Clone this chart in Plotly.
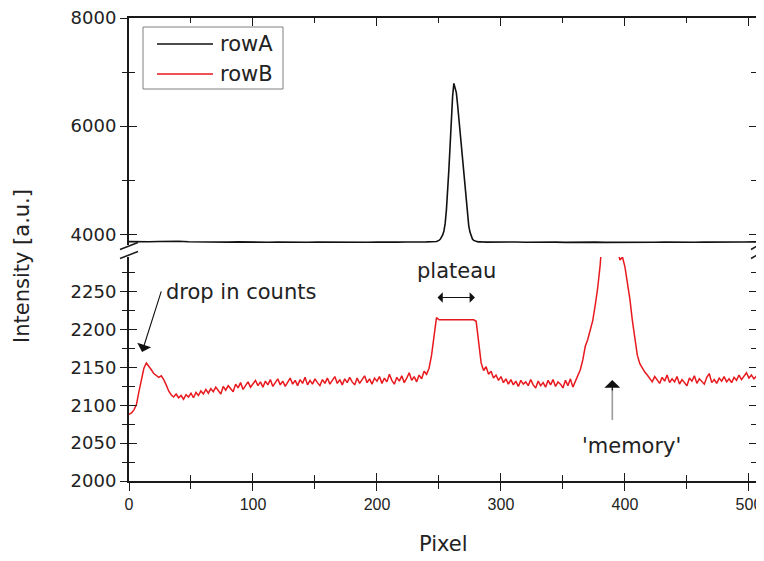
import plotly.graph_objects as go

# ---------------- data ----------------
rowA_x = [0, 8, 16, 24, 32, 40, 48, 56, 64, 72, 80, 88, 96, 104, 112, 120, 128, 136, 144, 152,
          160, 168, 176, 184, 192, 200, 208, 216, 224, 232, 240,
          248, 249, 250, 251, 252, 253, 254, 255, 256, 257, 258, 259, 260, 261, 262, 263, 264, 265,
          266, 267, 268, 269, 270, 271, 272, 273, 274, 275, 276, 277, 278, 279, 280, 281, 282, 283,
          288, 296, 304, 312, 320, 328, 336, 344, 352, 360, 368, 376, 384, 392, 400, 408, 416, 424,
          432, 440, 448, 456, 464, 472, 480, 488, 496, 504, 510]
rowA_y = [3862, 3858, 3860, 3866, 3872, 3868, 3860, 3855, 3852, 3856, 3853, 3857, 3852, 3855, 3850,
          3854, 3851, 3855, 3852, 3856, 3853, 3857, 3852, 3855, 3851, 3854, 3850, 3853, 3856, 3852, 3858,
          3866, 3872, 3885, 3905, 3935, 3985, 4060, 4200, 4450, 4780, 5200, 5650, 6150, 6550, 6790, 6700,
          6620, 6400, 6150, 5900, 5620, 5330, 5060, 4800, 4560, 4340, 4160, 4040, 3960, 3910, 3885, 3872,
          3866, 3862, 3858, 3860,
          3854, 3857, 3852, 3856, 3851, 3854, 3850, 3853, 3848, 3852, 3849, 3853, 3848, 3846, 3850, 3853,
          3849, 3852, 3856, 3851, 3855, 3850, 3854, 3851, 3856, 3852, 3855, 3858, 3856]

rowB_x = list(range(0, 512, 2))
rowB_y = [2088, 2090, 2094, 2101, 2118, 2136, 2149, 2156, 2152, 2147,
          2142, 2140, 2137, 2139, 2134, 2127, 2119, 2114, 2111, 2115,
          2110, 2113, 2108, 2114, 2111, 2116, 2110, 2117, 2113, 2119,
          2115, 2121, 2116, 2122, 2118, 2124, 2119, 2115, 2125, 2120,
          2126, 2122, 2118, 2128, 2123, 2130, 2121, 2126, 2131, 2124,
          2129, 2133, 2126, 2131, 2124, 2132, 2127, 2134, 2125, 2130,
          2135, 2127, 2132, 2125, 2131, 2136, 2128, 2133, 2126, 2134,
          2129, 2137, 2127, 2133, 2128, 2135, 2130, 2126, 2134, 2129,
          2136, 2128, 2133, 2138, 2129, 2134, 2127, 2135, 2130, 2137,
          2131, 2127, 2136, 2129, 2134, 2139, 2130, 2135, 2128, 2136,
          2132, 2138, 2129, 2136, 2131, 2141, 2133, 2128, 2137, 2132,
          2139, 2130, 2136, 2143, 2133, 2138, 2131, 2140, 2135, 2145,
          2141, 2149, 2166, 2192, 2216, 2213, 2213, 2213, 2213, 2213,
          2213, 2213, 2213, 2213, 2213, 2213, 2213, 2213, 2213, 2213,
          2211, 2186, 2156, 2146, 2151, 2141, 2145, 2136, 2140, 2133,
          2138, 2130, 2135, 2128, 2134, 2127, 2132, 2125, 2133, 2128,
          2131, 2126, 2134, 2127, 2123, 2132, 2126, 2130, 2124, 2133,
          2127, 2134, 2125, 2131, 2128, 2123, 2133, 2126, 2135, 2124,
          2132, 2138, 2147, 2160, 2178, 2187, 2198, 2212, 2232, 2255,
          2285, 2320, 2365, 2420, 2460, 2440, 2390, 2305, 2292, 2296,
          2283, 2264, 2240, 2212, 2190, 2166, 2155, 2149, 2144, 2140,
          2136, 2131, 2138, 2133, 2129, 2137, 2132, 2140, 2130, 2135,
          2131, 2138, 2128, 2134, 2130, 2126, 2136, 2132, 2139, 2129,
          2135, 2131, 2128, 2137, 2142, 2130, 2134, 2129, 2136, 2132,
          2138, 2131, 2135, 2130, 2137, 2133, 2140, 2134, 2138, 2143,
          2136, 2140, 2135, 2139, 2142, 2137]

x_range = [0, 506.5]
top_range = [3800, 8000]
bottom_range = [2000, 2296]

# ---------------- layout geometry (window pixels) ----------------
WIN_W, WIN_H = 764, 561
OFF = 8                      # page body margin
W, H = WIN_W - OFF, WIN_H - OFF
PL, PR, PT, PB = 129, 757, 18, 481
TOP_BOTTOM_PX = 245
BOT_TOP_PX = 257


def px(xp):
    return (xp - PL) / (PR - PL)


def py(yp):
    return (PB - yp) / (PB - PT)


FONT = "DejaVu Sans"
TXT = "#222222"
AX = "#1a1a1a"

fig = go.Figure()
fig.add_trace(go.Scatter(x=rowA_x, y=rowA_y, mode="lines", name="rowA",
                         line=dict(color="#111111", width=1.6), xaxis="x2", yaxis="y2",
                         showlegend=False))
fig.add_trace(go.Scatter(x=rowB_x, y=rowB_y, mode="lines", name="rowB",
                         line=dict(color="#e8191e", width=1.5), xaxis="x", yaxis="y",
                         showlegend=False))
# empty traces to register the overlay axes that carry the second half of the crossing ticks
fig.add_trace(go.Scatter(x=[], y=[], xaxis="x3", yaxis="y", showlegend=False, hoverinfo="skip"))
fig.add_trace(go.Scatter(x=[], y=[], xaxis="x", yaxis="y3", showlegend=False, hoverinfo="skip"))
fig.add_trace(go.Scatter(x=[], y=[], xaxis="x2", yaxis="y4", showlegend=False, hoverinfo="skip"))

common = dict(showgrid=False, zeroline=False, tickcolor=AX, tickwidth=1.4, automargin=False,
              tickfont=dict(family=FONT, size=18, color=TXT))
common_x = dict(showgrid=False, zeroline=False, tickcolor=AX, tickwidth=1.4, automargin=False,
                tickfont=dict(family="Liberation Sans", size=16, color=TXT))
inner_line = dict(showline=True, linecolor=AX, linewidth=1.6)

d_top = py(TOP_BOTTOM_PX)
d_bot = py(BOT_TOP_PX)

fig.update_layout(
    width=W, height=H,
    margin=dict(l=PL - OFF, r=W - (PR - OFF), t=PT - OFF, b=H - (PB - OFF), pad=0,
                autoexpand=False),
    paper_bgcolor="white", plot_bgcolor="white",
    showlegend=False,
    # bottom x axis: line, outside ticks and labels
    xaxis=dict(domain=[0, 1], range=x_range, anchor="y", ticks="outside", ticklen=8,
               tick0=0, dtick=100, ticklabeloverflow="allow",
               minor=dict(dtick=50, ticks="outside", ticklen=6, tickcolor=AX, tickwidth=1.4),
               showticklabels=True, **inner_line, **common_x),
    # overlay: inside half of the crossing ticks
    xaxis3=dict(overlaying="x", anchor="y", side="bottom", range=x_range, ticks="inside",
                ticklen=8, tick0=0, dtick=100, showline=False,
                minor=dict(dtick=50, ticks="inside", ticklen=6, tickcolor=AX, tickwidth=1.4),
                showticklabels=False, **common_x),
    xaxis2=dict(domain=[0, 1], range=x_range, anchor="y2", side="top", ticks="inside",
                ticklen=8, tick0=0, dtick=100,
                minor=dict(dtick=50, ticks="inside", ticklen=5, tickcolor=AX, tickwidth=1.4),
                showticklabels=False, **inner_line, **common),
    yaxis=dict(domain=[0, d_bot], range=bottom_range, anchor="x", ticks="inside", ticklen=8,
               tick0=0, dtick=50, mirror="ticks",
               minor=dict(dtick=25, ticks="inside", ticklen=6, tickcolor=AX, tickwidth=1.4),
               showticklabels=False, **inner_line, **common),
    yaxis3=dict(overlaying="y", anchor="x", side="left", range=bottom_range, ticks="outside",
                ticklen=8, tick0=0, dtick=50, showline=False, ticklabeloverflow="allow",
                minor=dict(dtick=25, ticks="outside", ticklen=6, tickcolor=AX, tickwidth=1.4),
                showticklabels=True, **common),
    yaxis2=dict(domain=[d_top, 1], range=top_range, anchor="x2", ticks="inside", ticklen=8,
                tick0=0, dtick=2000, mirror="ticks",
                minor=dict(dtick=1000, ticks="inside", ticklen=6, tickcolor=AX, tickwidth=1.4),
                showticklabels=False, **inner_line, **common),
    yaxis4=dict(overlaying="y2", anchor="x2", side="left", range=top_range, ticks="outside",
                ticklen=8, tick0=0, dtick=2000, showline=False, ticklabeloverflow="allow",
                minor=dict(dtick=1000, ticks="outside", ticklen=6, tickcolor=AX, tickwidth=1.4),
                showticklabels=True, **common),
)

shapes = []
# axis break marks
for xc in (PL, PR):
    for yc in (246, 255):
        half = 9 if xc == PL else 6
        shapes.append(dict(type="line", xref="paper", yref="paper",
                           x0=px(xc - half), y0=py(yc + 3.5), x1=px(xc + half), y1=py(yc - 3.5),
                           line=dict(color=AX, width=1.5)))
# legend box and samples
shapes.append(dict(type="rect", xref="paper", yref="paper", x0=px(143), x1=px(283),
                   y0=py(89), y1=py(27), line=dict(color="#808080", width=1),
                   fillcolor="white", layer="above"))
shapes.append(dict(type="line", xref="paper", yref="paper", x0=px(157), x1=px(213),
                   y0=py(44), y1=py(44), line=dict(color="#111111", width=1.5)))
shapes.append(dict(type="line", xref="paper", yref="paper", x0=px(157), x1=px(213),
                   y0=py(74), y1=py(74), line=dict(color="#e8191e", width=1.5)))
# grey shaft of the 'memory' arrow
shapes.append(dict(type="line", xref="x", yref="y", x0=389.8, x1=389.8, y0=2080.7, y1=2122,
                   line=dict(color="#9a9a9a", width=1.6)))
fig.update_layout(shapes=shapes)

tfont = dict(family=FONT, size=21, color=TXT)
ann = [
    dict(text="rowA", xref="paper", yref="paper", x=px(218), y=py(44), xanchor="left",
         yanchor="middle", showarrow=False, font=tfont),
    dict(text="rowB", xref="paper", yref="paper", x=px(218), y=py(74), xanchor="left",
         yanchor="middle", showarrow=False, font=tfont),
    dict(text="Intensity [a.u.]", xref="paper", yref="paper", x=px(22), y=py(266),
         xanchor="center", yanchor="middle", textangle=-90, showarrow=False, font=tfont),
    dict(text="Pixel", xref="paper", yref="paper", x=px(443), y=py(544),
         xanchor="center", yanchor="middle", showarrow=False, font=tfont),
    dict(text="drop in counts", xref="x", yref="y", x=90, y=2250, xanchor="center",
         yanchor="middle", showarrow=False, font=tfont),
    dict(text="", xref="x", yref="y", x=10.5, y=2170.6, axref="x", ayref="y", ax=26.4,
         ay=2252.6, showarrow=True, arrowhead=1, arrowsize=2.2, arrowwidth=1.1,
         arrowcolor="#111111", standoff=0),
    dict(text="plateau", xref="x", yref="y", x=264.5, y=2278, xanchor="center",
         yanchor="middle", showarrow=False, font=tfont),
    dict(text="", xref="x", yref="y", x=279, y=2242.5, axref="x", ayref="y", ax=247.6,
         ay=2242.5, showarrow=True, arrowhead=1, startarrowhead=1, arrowside="end+start",
         arrowsize=1.6, startarrowsize=1.6, arrowwidth=1.1, arrowcolor="#111111",
         standoff=0, startstandoff=0),
    dict(text="'memory'", xref="x", yref="y", x=405.4, y=2046, xanchor="center",
         yanchor="middle", showarrow=False, font=tfont),
    dict(text="", xref="x", yref="y", x=389.8, y=2133.6, ax=0, ay=12, showarrow=True,
         arrowhead=1, arrowsize=2.2, arrowwidth=1.2, arrowcolor="#111111", standoff=0),
]
fig.update_layout(annotations=ann)

fig.write_html("out.html")
